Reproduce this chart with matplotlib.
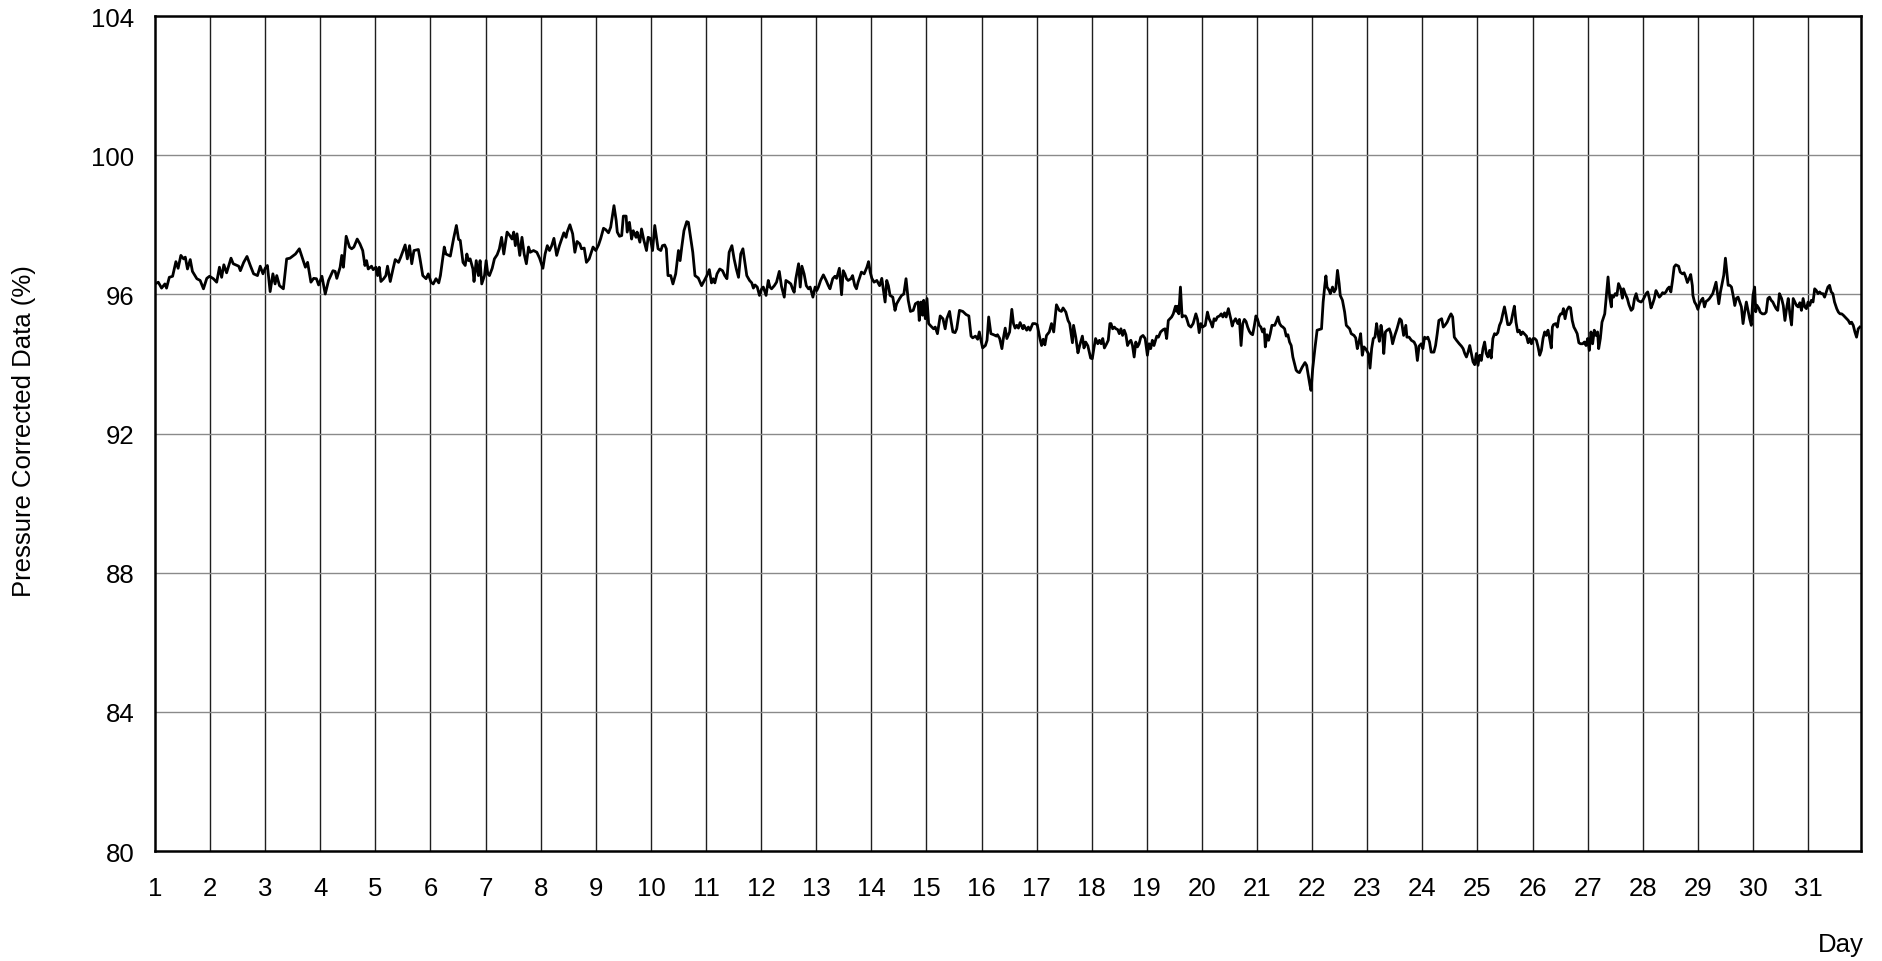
import matplotlib
matplotlib.use("Agg")
import matplotlib.pyplot as plt

# day of month (fractional) and pressure corrected reading (%)
day = [
    1.00, 1.06, 1.12, 1.18, 1.21, 1.26, 1.32, 1.38, 1.42, 1.47, 1.52, 1.55, 1.59, 1.64, 1.68, 1.76, 1.82, 1.88, 1.94, 1.99,
    2.06, 2.12, 2.17, 2.21, 2.25, 2.30, 2.38, 2.42, 2.52, 2.55, 2.61, 2.67, 2.73, 2.79, 2.86, 2.91, 2.96, 3.00, 3.04, 3.09,
    3.14, 3.18, 3.21, 3.26, 3.33, 3.39, 3.45, 3.55, 3.62, 3.68, 3.73, 3.77, 3.83, 3.88, 3.93, 3.97, 4.03, 4.09, 4.15, 4.23,
    4.27, 4.30, 4.36, 4.39, 4.42, 4.47, 4.53,
    4.57, 4.61, 4.67, 4.72, 4.77, 4.81, 4.84, 4.87, 4.93, 4.96, 5.01, 5.04, 5.07, 5.10, 5.15, 5.19, 5.22, 5.27, 5.32, 5.36,
    5.42, 5.46, 5.54, 5.58, 5.62, 5.66, 5.70, 5.78, 5.81, 5.86, 5.92, 5.96, 6.01, 6.05, 6.10, 6.15, 6.18, 6.25, 6.28, 6.36,
    6.42, 6.47, 6.51, 6.54, 6.59, 6.63, 6.66, 6.69, 6.72, 6.77, 6.79, 6.83, 6.87, 6.90, 6.93, 6.98, 7.01, 7.04, 7.07, 7.12,
    7.16, 7.21, 7.25, 7.29, 7.33, 7.39, 7.44, 7.48, 7.51, 7.54, 7.57, 7.62, 7.66, 7.70, 7.74, 7.78, 7.81, 7.87, 7.93, 7.98,
    8.04, 8.08, 8.12, 8.16, 8.20, 8.24, 8.29, 8.34, 8.38, 8.42, 8.46, 8.48, 8.53, 8.58, 8.62, 8.66, 8.71, 8.74, 8.79, 8.83,
    8.88, 8.95, 9.00, 9.05, 9.09, 9.14, 9.18, 9.23, 9.27, 9.33, 9.37, 9.39, 9.43, 9.47, 9.50, 9.55, 9.57, 9.61, 9.65, 9.68,
    9.73, 9.75, 9.80, 9.83, 9.87, 9.92, 9.95, 9.99, 10.03, 10.07, 10.10, 10.13, 10.18, 10.21, 10.25, 10.28, 10.31, 10.36,
    10.40, 10.45, 10.50, 10.53, 10.56, 10.60, 10.65, 10.68, 10.71, 10.76, 10.80, 10.86, 10.92, 10.96, 11.01, 11.06, 11.10,
    11.13, 11.16, 11.20, 11.25, 11.30, 11.34, 11.38, 11.42,
    11.47, 11.51, 11.55, 11.59, 11.63, 11.67, 11.71, 11.74, 11.79, 11.83, 11.86, 11.89, 11.93, 11.97, 12.01, 12.04, 12.09,
    12.13, 12.16, 12.19, 12.24, 12.28, 12.33, 12.37, 12.42, 12.45, 12.50, 12.54, 12.57, 12.60, 12.63, 12.68, 12.71, 12.74,
    12.78, 12.82, 12.86, 12.89, 12.94, 12.98, 13.01, 13.04, 13.08, 13.13, 13.18, 13.22, 13.25, 13.30, 13.34, 13.37, 13.42,
    13.46, 13.49, 13.52, 13.55, 13.58, 13.63, 13.66, 13.70, 13.73, 13.76, 13.79, 13.82, 13.87, 13.92, 13.95, 13.98, 14.01,
    14.05, 14.10, 14.15, 14.19, 14.22, 14.25, 14.28, 14.31, 14.34, 14.39, 14.43, 14.46, 14.51, 14.55, 14.59, 14.63, 14.67,
    14.71, 14.76, 14.80, 14.85, 14.87,
    14.90, 14.93, 14.95, 14.98, 15.01, 15.04, 15.08, 15.13, 15.16, 15.20, 15.25, 15.30, 15.34, 15.37, 15.42, 15.45, 15.48,
    15.52, 15.55, 15.60, 15.66, 15.72, 15.77, 15.81, 15.84, 15.89, 15.93, 15.96, 15.99, 16.02, 16.07, 16.10, 16.13, 16.17,
    16.22, 16.27, 16.29, 16.33, 16.37, 16.40, 16.43, 16.46, 16.51, 16.55, 16.58, 16.61, 16.64, 16.67, 16.70, 16.75, 16.77,
    16.82, 16.85, 16.88, 16.93, 16.97, 17.01, 17.06, 17.09, 17.12, 17.15, 17.18, 17.23, 17.27, 17.31, 17.36, 17.41, 17.45,
    17.48, 17.53, 17.57, 17.60, 17.65, 17.67, 17.71, 17.75, 17.78, 17.83, 17.86, 17.89, 17.93, 17.98, 18.01, 18.04, 18.07,
    18.11, 18.14, 18.17, 18.20, 18.23, 18.27, 18.30, 18.33,
    18.35, 18.38, 18.41, 18.44, 18.47, 18.50, 18.53, 18.56, 18.59, 18.62, 18.65, 18.68, 18.71, 18.74, 18.77, 18.80, 18.83,
    18.86, 18.89, 18.93, 18.97, 19.01, 19.04, 19.07, 19.10, 19.13, 19.18, 19.21, 19.25, 19.30, 19.33, 19.36, 19.39, 19.42,
    19.45, 19.48, 19.52, 19.54, 19.56, 19.58, 19.61, 19.64, 19.66, 19.70, 19.72, 19.76, 19.80, 19.84, 19.89, 19.92, 19.95,
    19.98, 20.01, 20.06, 20.10, 20.13, 20.16, 20.19, 20.22, 20.25, 20.28, 20.32, 20.35, 20.38, 20.41, 20.44, 20.48, 20.53,
    20.55, 20.57, 20.61, 20.65, 20.68, 20.71, 20.74, 20.77, 20.80, 20.83, 20.86, 20.89, 20.92, 20.95, 20.98, 21.01, 21.04,
    21.07, 21.10, 21.13, 21.15, 21.18, 21.21, 21.24, 21.27, 21.32, 21.35, 21.38, 21.41, 21.44, 21.47, 21.50, 21.53, 21.56,
    21.59, 21.62, 21.65, 21.68, 21.71, 21.74, 21.77,
    21.82, 21.87, 21.90, 21.93, 21.96, 21.98, 22.01, 22.05, 22.09, 22.13, 22.17, 22.20, 22.23, 22.25, 22.27, 22.31, 22.33,
    22.37, 22.40, 22.43, 22.46, 22.49, 22.51, 22.55, 22.59, 22.62, 22.65, 22.68, 22.71, 22.76, 22.79, 22.82, 22.85, 22.88,
    22.91, 22.94, 22.97, 23.02, 23.05, 23.08, 23.11, 23.14, 23.17, 23.19, 23.22, 23.25, 23.28, 23.30, 23.33, 23.36, 23.40,
    23.43, 23.46, 23.50, 23.54, 23.59, 23.62, 23.66, 23.70, 23.72, 23.76, 23.80, 23.85, 23.88, 23.91, 23.94, 23.98, 24.01,
    24.04, 24.07, 24.10, 24.13, 24.16, 24.21, 24.24, 24.27, 24.30, 24.35, 24.38, 24.41, 24.45, 24.49, 24.52, 24.55, 24.58,
    24.62, 24.67, 24.71, 24.74, 24.77, 24.80, 24.83, 24.86, 24.89, 24.92, 24.95, 24.98, 25.01, 25.04, 25.07, 25.10, 25.13,
    25.16, 25.19, 25.22,
    25.25, 25.28, 25.31, 25.34, 25.37, 25.40, 25.43, 25.46, 25.49, 25.52, 25.55, 25.58, 25.61, 25.64, 25.67, 25.70, 25.73,
    25.76, 25.79, 25.82, 25.85, 25.89, 25.92, 25.95, 25.98, 26.01, 26.04, 26.07, 26.10, 26.13, 26.16, 26.19, 26.22, 26.25,
    26.28, 26.31, 26.34, 26.36, 26.38, 26.42, 26.45, 26.48, 26.51, 26.54, 26.56, 26.59, 26.62, 26.66, 26.69, 26.72, 26.75,
    26.78, 26.81, 26.84, 26.87, 26.91, 26.94, 26.97, 27.00, 27.03, 27.06, 27.09, 27.12, 27.15, 27.18, 27.20, 27.23, 27.26,
    27.31, 27.34, 27.37, 27.40, 27.43, 27.44, 27.47, 27.50, 27.53, 27.56, 27.60, 27.63, 27.65, 27.68, 27.72, 27.75, 27.79,
    27.82, 27.85, 27.88, 27.91, 27.94, 27.97, 28.00, 28.03, 28.06, 28.09, 28.12, 28.15, 28.18, 28.21, 28.24, 28.27, 28.30,
    28.33, 28.36, 28.39, 28.42, 28.45, 28.48, 28.51, 28.54, 28.57, 28.60, 28.65,
    28.68, 28.72, 28.75, 28.78, 28.81, 28.84, 28.87, 28.90, 28.91, 28.94, 28.97, 29.00, 29.03, 29.06, 29.09, 29.12, 29.15,
    29.18, 29.21, 29.24, 29.27, 29.30, 29.33, 29.35, 29.38, 29.41, 29.44, 29.47, 29.50, 29.53, 29.55, 29.58, 29.61, 29.64,
    29.67, 29.70, 29.73, 29.76, 29.79, 29.82, 29.85, 29.88, 29.91, 29.94, 29.97, 30.00, 30.03, 30.05, 30.07, 30.11, 30.13,
    30.17, 30.21, 30.24, 30.27, 30.30, 30.33, 30.36, 30.39, 30.42, 30.45, 30.48, 30.52, 30.55, 30.58, 30.61, 30.64, 30.67,
    30.70, 30.73, 30.76, 30.79, 30.82, 30.85, 30.88, 30.91, 30.94, 30.97, 31.00, 31.03, 31.06, 31.09, 31.12, 31.15, 31.18,
    31.21, 31.24, 31.27, 31.30, 31.33, 31.36, 31.39, 31.42, 31.45, 31.48, 31.52, 31.55, 31.58, 31.61, 31.64, 31.67, 31.70,
    31.73, 31.76, 31.79, 31.82, 31.85, 31.88, 31.91, 31.94,
]

pct = [
    96.30, 96.35, 96.18, 96.30, 96.18, 96.49, 96.52, 96.94, 96.75, 97.12, 97.02, 97.07, 96.73, 97.00, 96.66, 96.45, 96.40, 96.16, 96.46, 96.52,
    96.45, 96.35, 96.78, 96.49, 96.85, 96.62, 97.04, 96.88, 96.81, 96.68, 96.92, 97.09, 96.83, 96.59, 96.54, 96.81, 96.59, 96.75, 96.83, 96.08,
    96.59, 96.30, 96.54, 96.25, 96.16, 97.02, 97.04, 97.16, 97.31, 97.02, 96.78, 96.92, 96.35, 96.46, 96.45, 96.27, 96.52, 96.01, 96.40, 96.68,
    96.66, 96.46, 96.78, 97.12, 96.78, 97.67, 97.36,
    97.31, 97.36, 97.59, 97.45, 97.26, 96.83, 96.97, 96.73, 96.81, 96.71, 96.78, 96.54, 96.78, 96.37, 96.45, 96.54, 96.81, 96.37, 96.73, 97.00,
    96.92, 97.07, 97.42, 97.02, 97.40, 96.88, 97.26, 97.29, 97.02, 96.54, 96.45, 96.59, 96.35, 96.30, 96.45, 96.33, 96.54, 97.36, 97.16, 97.10,
    97.61, 97.98, 97.58, 97.55, 96.92, 96.83, 97.16, 96.97, 97.02, 96.73, 96.37, 96.97, 96.54, 96.97, 96.30, 96.54, 96.97, 96.59, 96.54, 96.75,
    97.02, 97.14, 97.31, 97.64, 97.16, 97.79, 97.69, 97.59, 97.79, 97.40, 97.74, 97.12, 97.64, 97.16, 96.88, 97.36, 97.21, 97.26, 97.21, 97.04,
    96.75, 97.16, 97.40, 97.26, 97.40, 97.61, 97.12, 97.40, 97.59, 97.77, 97.64, 97.79, 98.00, 97.74, 97.21, 97.52, 97.45, 97.31, 97.33, 96.92,
    97.02, 97.36, 97.26, 97.42, 97.61, 97.90, 97.86, 97.77, 97.93, 98.55, 98.12, 97.79, 97.67, 97.69, 98.25, 98.25, 97.79, 98.07, 97.59, 97.83,
    97.64, 97.79, 97.50, 97.88, 97.57, 97.26, 97.64, 97.61, 97.26, 97.98, 97.64, 97.31, 97.26, 97.40, 97.42, 97.31, 96.54, 96.54,
    96.30, 96.59, 97.26, 96.97, 97.36, 97.83, 98.09, 98.07, 97.74, 97.21, 96.54, 96.47, 96.25, 96.37, 96.52, 96.71, 96.33,
    96.45, 96.33, 96.59, 96.73, 96.68, 96.54, 96.45, 97.21,
    97.40, 97.02, 96.73, 96.49, 97.16, 97.31, 96.88, 96.54, 96.40, 96.33, 96.18, 96.27, 96.21, 95.97, 96.16, 96.21, 95.97,
    96.40, 96.21, 96.16, 96.25, 96.35, 96.66, 96.23, 95.92, 96.40, 96.35, 96.30, 96.16, 96.06, 96.45, 96.88, 96.21, 96.81,
    96.59, 96.25, 96.16, 96.21, 95.92, 96.21, 96.11, 96.21, 96.40, 96.56, 96.40, 96.25, 96.16, 96.45, 96.52, 96.46, 96.75,
    95.99, 96.68, 96.59, 96.45, 96.40, 96.45, 96.54, 96.25, 96.16, 96.35, 96.49, 96.64, 96.59, 96.78, 96.94, 96.64, 96.46,
    96.35, 96.40, 96.25, 96.46, 96.11, 95.78, 96.40, 96.25, 95.97, 95.92, 95.54, 95.73, 95.87, 95.97, 96.01, 96.45, 95.83,
    95.51, 95.54, 95.73, 95.78, 95.25,
    95.78, 95.40, 95.83, 95.30, 95.88, 95.16, 95.09, 95.01, 95.06, 94.87, 95.38, 95.30, 95.01, 95.30, 95.51, 95.20, 94.92,
    94.90, 95.01, 95.54, 95.51, 95.42, 95.38, 94.80, 94.75, 94.80, 94.71, 94.92, 94.68, 94.46, 94.53, 94.68, 95.35, 94.87,
    94.84, 94.80, 94.84, 94.73, 94.44, 94.77, 95.03, 94.73, 94.92, 95.57, 95.16, 95.03, 95.11, 95.03, 95.19, 95.01, 95.11,
    94.97, 95.06, 94.97, 95.16, 95.16, 95.13, 94.73, 94.53, 94.71, 94.55, 94.82, 94.92, 95.16, 94.92, 95.70, 95.54, 95.51,
    95.61, 95.49, 95.25, 95.16, 94.61, 95.11, 94.77, 94.32, 94.52, 94.80, 94.46, 94.63, 94.52, 94.17, 94.15, 94.46, 94.73,
    94.58, 94.68, 94.58, 94.73, 94.46, 94.58, 94.68, 95.16,
    95.16, 95.01, 95.06, 95.01, 94.99, 94.87, 95.01, 94.82, 94.97, 94.84, 94.53, 94.63, 94.68, 94.53, 94.20, 94.63, 94.49,
    94.58, 94.77, 94.82, 94.73, 94.25, 94.58, 94.44, 94.68, 94.53, 94.80, 94.77, 94.92, 94.99, 95.01, 94.73, 95.25, 95.30,
    95.35, 95.44, 95.66, 95.51, 95.66, 95.44, 96.21, 95.35, 95.38, 95.38, 95.32, 95.11, 95.06, 95.16, 95.44, 95.28, 94.90,
    95.16, 95.06, 95.11, 95.49, 95.30, 95.20, 95.06, 95.30, 95.25, 95.35, 95.38, 95.44, 95.35, 95.47, 95.35, 95.59, 95.25,
    95.09, 95.20, 95.30, 95.16, 95.28, 94.53, 95.16, 95.28, 95.22, 95.06, 94.94, 94.87, 94.84, 95.09, 95.38, 95.28, 95.11,
    95.06, 94.92, 95.01, 94.49, 94.84, 94.68, 94.87, 95.11, 95.11, 95.22, 95.35, 95.16, 95.09, 95.06, 95.01, 94.80, 94.84,
    94.63, 94.53, 94.20, 94.01, 93.82, 93.77, 93.75,
    93.91, 94.04, 93.96, 93.67, 93.39, 93.24, 93.86, 94.44, 94.97, 94.99, 95.01, 95.78, 96.26, 96.53, 96.21, 96.11, 96.02,
    96.21, 96.07, 96.16, 96.69, 96.31, 95.97, 95.83, 95.49, 95.11, 95.06, 95.01, 94.87, 94.82, 94.75, 94.44, 94.63, 94.87,
    94.25, 94.49, 94.44, 94.30, 93.88, 94.44, 94.73, 94.77, 95.16, 94.92, 94.65, 95.11, 94.82, 94.30, 94.92, 94.97, 95.01,
    94.87, 94.58, 94.82, 95.01, 95.30, 95.25, 94.82, 95.11, 94.77, 94.77, 94.68, 94.63, 94.53, 94.10, 94.51, 94.58, 94.44,
    94.77, 94.73, 94.77, 94.63, 94.34, 94.34, 94.53, 94.87, 95.25, 95.30, 95.06, 95.11, 95.20, 95.35, 95.44, 95.35, 94.77,
    94.68, 94.58, 94.51, 94.44, 94.30, 94.20, 94.34, 94.53, 94.30, 94.06, 93.98, 94.30, 93.96, 94.25, 94.10, 94.44, 94.63,
    94.30, 94.20, 94.39,
    94.17, 94.73, 94.87, 94.84, 94.90, 95.11, 95.22, 95.44, 95.64, 95.40, 95.13, 95.13, 95.20, 95.44, 95.66, 95.20, 94.92,
    94.97, 94.84, 94.92, 94.87, 94.80, 94.61, 94.73, 94.58, 94.73, 94.73, 94.68, 94.49, 94.25, 94.39, 94.73, 94.92, 94.82,
    94.97, 94.73, 94.46, 95.06, 95.13, 95.16, 95.06, 95.35, 95.44, 95.44, 95.59, 95.30, 95.54, 95.64, 95.61, 95.25, 95.06,
    94.97, 94.87, 94.61, 94.58, 94.58, 94.63, 94.53, 94.73, 94.39, 94.92, 94.58, 94.97, 94.82, 94.92, 94.44, 94.73, 95.20,
    95.44, 95.97, 96.50, 95.92, 95.64, 95.97, 95.92, 96.02, 95.97, 96.31, 96.16, 95.89, 96.16, 96.02, 95.88, 95.70, 95.54,
    95.59, 95.88, 96.02, 95.83, 95.80, 95.78, 95.83, 95.92, 96.02, 96.07, 95.88, 95.61, 95.73, 95.88, 96.11, 96.02, 95.92,
    95.97, 96.05, 96.02, 96.07, 96.16, 96.21, 96.07, 96.40, 96.79, 96.85, 96.81,
    96.64, 96.59, 96.62, 96.50, 96.34, 96.45, 96.57, 96.25, 95.97, 95.78, 95.70, 95.57, 95.73, 95.83, 95.89, 95.64, 95.80,
    95.83, 95.88, 95.95, 96.02, 96.18, 96.35, 96.11, 95.73, 96.07, 96.31, 96.55, 97.04, 96.59, 96.26, 96.26, 96.21, 95.97,
    95.68, 95.89, 95.92, 95.78, 95.64, 95.16, 95.50, 95.78, 95.54, 95.30, 95.11, 95.97, 96.21, 95.50, 95.69, 95.59, 95.49,
    95.44, 95.44, 95.49, 95.88, 95.92, 95.83, 95.78, 95.68, 95.59, 95.54, 96.02, 95.88, 95.68, 95.25, 95.59, 95.88, 95.44,
    95.12, 95.88, 95.78, 95.68, 95.64, 95.76, 95.54, 95.88, 95.64, 95.59, 95.78, 95.68, 95.83, 95.78, 96.16, 96.11, 96.02,
    96.07, 96.02, 96.02, 95.92, 96.07, 96.21, 96.26, 96.07, 96.02, 95.78, 95.59, 95.49, 95.44, 95.44, 95.40, 95.35, 95.30,
    95.25, 95.16, 95.20, 95.11, 94.92, 94.77, 95.01, 95.06,
]

x_ticks = list(range(1, 32))
y_ticks = [80, 84, 88, 92, 96, 100, 104]

plt.rcParams['font.family'] = ['Liberation Sans', 'DejaVu Sans']

fig = plt.figure(figsize=(18.83, 9.62), dpi=100)
ax = fig.add_axes([0.0823, 0.1143, 0.9060, 0.8680])

# grid: vertical day lines darker than the horizontal ones
for d in x_ticks[1:]:
    ax.axvline(d, color='#1e1e1e', linewidth=1.0, zorder=1)
for v in y_ticks[1:-1]:
    ax.axhline(v, color='#8a8a8a', linewidth=1.0, zorder=1)

ax.plot(day, pct, color='black', linewidth=2.0, zorder=3)

ax.set_xlim(1, 31.96)
ax.set_ylim(80, 104)
ax.set_xticks(x_ticks)
ax.set_yticks(y_ticks)
ax.tick_params(axis='both', length=0, labelsize=18.5)
ax.tick_params(axis='x', pad=18)
ax.tick_params(axis='y', pad=15)
for s in ax.spines.values():
    s.set_linewidth(1.8)

fig.text(0.013, 0.552, 'Pressure Corrected Data (%)', rotation=90,
         ha='center', va='center', fontsize=18.5)
fig.text(0.990, 0.018, 'Day', ha='right', va='center', fontsize=18.5)

fig.savefig('out.png', dpi=100)
